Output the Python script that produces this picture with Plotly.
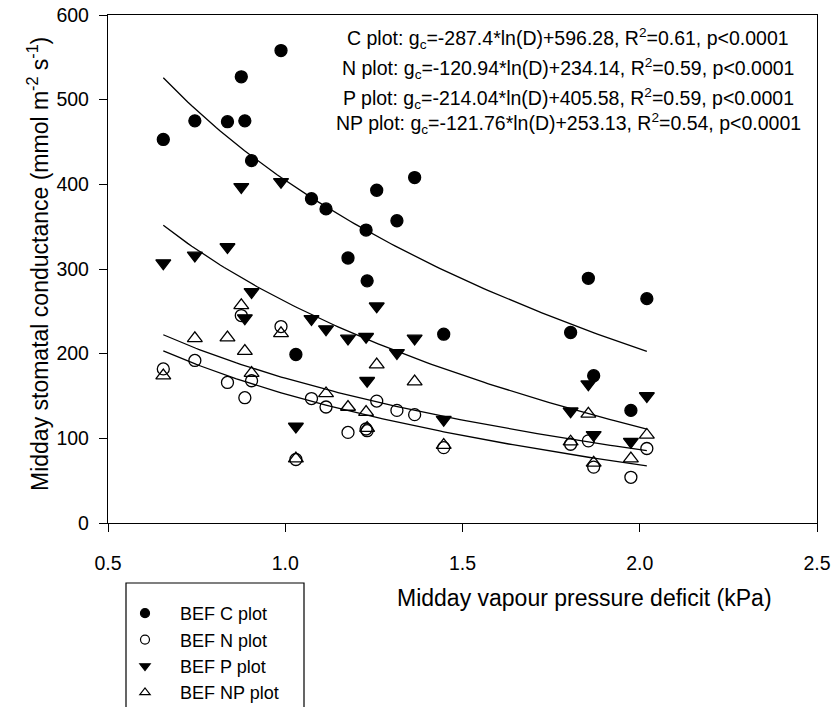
import numpy as np
import plotly.graph_objects as go

# ---- data ----
vpd = [0.656, 0.745, 0.837, 0.876, 0.886, 0.905, 0.988, 1.030, 1.074, 1.115, 1.177,
       1.228, 1.231, 1.258, 1.315, 1.365, 1.447, 1.805, 1.855, 1.870, 1.975, 2.020]

gc_C = [453, 475, 474, 527, 475, 428, 558, 199, 383, 371, 313,
        346, 286, 393, 357, 408, 223, 225, 289, 174, 133, 265]
gc_N = [182, 192, 166, 245, 148, 168, 232, 75, 147, 137, 107,
        111, 109, 144, 133, 128, 89, 93, 97, 66, 54, 88]
gc_P = [307, 316, 326, 397, 242, 273, 403, 114, 241, 229, 218,
        220, 168, 256, 201, 218, 122, 132, 164, 104, 96, 150]
gc_NP = [174, 218, 219, 257, 203, 177, 224, 76, None, 153, 137,
         131, 112, 187, None, 167, 92, 96, 129, 71, 76, 104]

series_names = ["BEF C plot", "BEF N plot", "BEF P plot", "BEF NP plot"]

# fitted curves as drawn: gc = slope*ln(D) + intercept
fit_slope = [-287.4, -120.94, -214.04, -121.76]
fit_intercept_drawn = [404.7, 152.4, 261.4, 171.0]

eq_labels = [
    "C plot: g<sub>c</sub>=-287.4*ln(D)+596.28, R<sup>2</sup>=0.61, p&lt;0.0001",
    "N plot: g<sub>c</sub>=-120.94*ln(D)+234.14, R<sup>2</sup>=0.59, p&lt;0.0001",
    "P plot: g<sub>c</sub>=-214.04*ln(D)+405.58, R<sup>2</sup>=0.59, p&lt;0.0001",
    "NP plot: g<sub>c</sub>=-121.76*ln(D)+253.13, R<sup>2</sup>=0.54, p&lt;0.0001",
]

x_ticks = [0.5, 1.0, 1.5, 2.0, 2.5]
y_ticks = [0, 100, 200, 300, 400, 500, 600]

# ---- figure ----
W, H = 835, 707
L, R, T, B = 108, 18, 15, 184
PW, PH = W - L - R, H - T - B


def px_x(p):
    return (p - L) / PW


def px_y(p):
    return (H - B - p) / PH


FONT = "Liberation Sans, Arial, sans-serif"

fig = go.Figure()

symbols = ["circle", "circle-open", "triangle-down", "triangle-up-open"]
sizes = [12, 12, 13, 13]
values = [gc_C, gc_N, gc_P, gc_NP]

for name, ys, sym, sz in zip(series_names, values, symbols, sizes):
    fig.add_trace(go.Scatter(
        x=vpd, y=ys, mode="markers", name=name, showlegend=False,
        legendgroup=name,
        marker=dict(symbol=sym, size=sz, color="black",
                    line=dict(color="black", width=1.3)),
    ))

# legend entries (smaller symbols, as in the original key)
for name, sym in zip(series_names, symbols):
    fig.add_trace(go.Scatter(
        x=[None], y=[None], mode="markers", name=name, legendgroup=name,
        marker=dict(symbol=sym, size=9, color="black",
                    line=dict(color="black", width=1.2)),
    ))

xs = np.linspace(min(vpd), max(vpd), 120)
for a, b in zip(fit_slope, fit_intercept_drawn):
    fig.add_trace(go.Scatter(
        x=xs, y=a * np.log(xs) + b, mode="lines", showlegend=False,
        line=dict(color="black", width=1.3), hoverinfo="skip",
    ))

axis_common = dict(
    showline=True, mirror=True, linecolor="black", linewidth=1.3,
    ticks="outside", ticklen=8, tickwidth=1.2, tickcolor="black",
    showgrid=False, zeroline=False,
    tickfont=dict(family=FONT, size=19.5, color="black"),
)

fig.update_xaxes(range=[0.5, 2.5], tickvals=x_ticks,
                 ticktext=[f"{v:.1f}" for v in x_ticks],
                 ticklabelstandoff=14, **axis_common)
fig.update_yaxes(range=[0, 600], tickvals=y_ticks,
                 ticklabelstandoff=6, **axis_common)

# y axis title
fig.add_annotation(x=px_x(38), y=px_y(264), xref="paper", yref="paper",
                   text="Midday stomatal conductance (mmol m<sup>-2</sup> s<sup>-1</sup>)",
                   textangle=-90, showarrow=False, xanchor="center", yanchor="middle",
                   font=dict(family=FONT, size=23, color="black"))

eq_y = [38, 68, 98, 124]
for txt, yc in zip(eq_labels, eq_y):
    fig.add_annotation(x=px_x(568), y=px_y(yc), xref="paper", yref="paper",
                       text=txt, showarrow=False, xanchor="center", yanchor="middle",
                       font=dict(family=FONT, size=19.5, color="black"))

fig.add_annotation(x=px_x(584), y=px_y(598), xref="paper", yref="paper",
                   text="Midday vapour pressure deficit (kPa)", showarrow=False,
                   xanchor="center", yanchor="middle",
                   font=dict(family=FONT, size=23, color="black"))

# legend frame (extends below the page edge as in the original)
fig.add_shape(type="rect", xref="paper", yref="paper",
              x0=px_x(126), x1=px_x(304), y0=px_y(583), y1=px_y(730),
              line=dict(color="black", width=1.2), fillcolor="rgba(0,0,0,0)")

fig.update_layout(
    width=W, height=H,
    margin=dict(l=L, r=R, t=T, b=B, autoexpand=False),
    paper_bgcolor="white", plot_bgcolor="white",
    font=dict(family=FONT, size=18, color="black"),
    showlegend=True,
    legend=dict(x=px_x(110), y=px_y(595), xanchor="left", yanchor="top",
                bgcolor="rgba(0,0,0,0)", borderwidth=0,
                font=dict(family=FONT, size=18, color="black"),
                itemsizing="trace", itemwidth=60, tracegroupgap=0),
)

fig.write_html("out.html")
